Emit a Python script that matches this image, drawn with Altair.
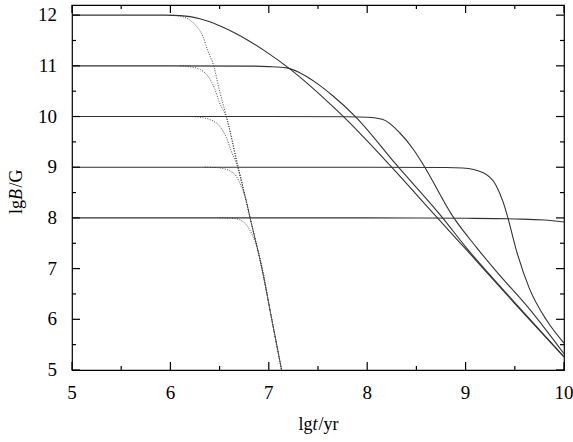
import altair as alt
import pandas as pd

# ---- solid curves ----
s12_x = [5.0, 5.6, 5.95, 6.1, 6.2, 6.3, 6.4, 6.5, 6.6, 6.8, 7.0, 7.2, 7.4, 7.6, 7.8, 8.0, 8.23, 8.70, 9.0, 9.5, 10.0]
s12_y = [12.0, 12.0, 12.0, 11.99, 11.97, 11.93, 11.87, 11.79, 11.70, 11.49, 11.24, 10.96, 10.64, 10.29, 9.92, 9.52, 9.04, 8.03, 7.39, 6.31, 5.26]

s11_x = [5.0, 6.0, 6.8, 7.0, 7.18, 7.31, 7.5, 7.65, 7.88, 8.30, 8.75, 9.0, 9.5, 10.0]
s11_y = [11.0, 11.0, 10.995, 10.985, 10.96, 10.87, 10.64, 10.41, 10.0, 9.04, 8.04, 7.43, 6.33, 5.26]

s10_x = [5.0, 7.0, 7.8, 8.0, 8.16, 8.33, 8.47, 8.57, 8.87, 9.11, 9.31, 9.65, 10.0]
s10_y = [10.0, 10.0, 9.995, 9.985, 9.94, 9.68, 9.35, 9.05, 8.03, 7.42, 6.95, 6.2, 5.32]

s9_x = [5.0, 8.0, 8.8, 8.97, 9.18, 9.31, 9.38, 9.43, 9.51, 9.65, 9.82, 10.0]
s9_y = [9.0, 9.0, 8.995, 8.985, 8.89, 8.64, 8.32, 8.0, 7.4, 6.6, 5.99, 5.53]

s8_x = [5.0, 8.0, 8.5, 9.0, 9.5, 9.8, 10.0]
s8_y = [8.0, 8.0, 7.998, 7.993, 7.98, 7.96, 7.92]

# ---- dotted curves ----
d12_x = [6.0, 6.1, 6.2, 6.27, 6.33, 6.38, 6.44, 6.50, 6.57, 6.69, 6.81, 6.93, 7.03, 7.13]
d12_y = [12.0, 11.98, 11.9, 11.77, 11.58, 11.3, 11.0, 10.5, 10.0, 9.0, 8.0, 7.0, 6.0, 5.0]

d11_x = [6.1, 6.2, 6.30, 6.38, 6.45, 6.50, 6.565, 6.685, 6.81, 6.93, 7.03, 7.13]
d11_y = [11.0, 10.98, 10.93, 10.8, 10.55, 10.27, 10.0, 9.0, 8.0, 7.0, 6.0, 5.0]

d10_x = [6.2, 6.32, 6.40, 6.50, 6.57, 6.62, 6.685, 6.81, 6.93, 7.03, 7.13]
d10_y = [10.0, 9.98, 9.94, 9.81, 9.58, 9.31, 9.0, 8.0, 7.0, 6.0, 5.0]

d9_x = [6.35, 6.45, 6.52, 6.59, 6.67, 6.72, 6.77, 6.81, 6.93, 7.03, 7.13]
d9_y = [9.0, 8.995, 8.98, 8.94, 8.82, 8.62, 8.35, 8.0, 7.0, 6.0, 5.0]

d8_x = [6.5, 6.6, 6.65, 6.71, 6.77, 6.84, 6.89, 6.935, 7.03, 7.13]
d8_y = [8.0, 7.997, 7.99, 7.96, 7.87, 7.63, 7.37, 7.0, 6.0, 5.0]

x_ticks = [5, 6, 7, 8, 9, 10]
x_minor = [5.5, 6.5, 7.5, 8.5, 9.5]
y_ticks = [5, 6, 7, 8, 9, 10, 11, 12]
y_minor = [5.5, 6.5, 7.5, 8.5, 9.5, 10.5, 11.5]


def frame(curves):
    rows = []
    for name, xs, ys in curves:
        for i, (a, b) in enumerate(zip(xs, ys)):
            rows.append({"x": a, "y": b, "series": name, "order": i})
    return pd.DataFrame(rows)


solid = frame([("12", s12_x, s12_y), ("11", s11_x, s11_y), ("10", s10_x, s10_y),
               ("9", s9_x, s9_y), ("8", s8_x, s8_y)])
dotted = frame([("12", d12_x, d12_y), ("11", d11_x, d11_y), ("10", d10_x, d10_y),
                ("9", d9_x, d9_y), ("8", d8_x, d8_y)])

W, H = 492, 365
FONT = "Liberation Serif"

xscale = alt.Scale(domain=[5, 10], nice=False, zero=False)
yscale = alt.Scale(domain=[5, 12.2], nice=False, zero=False)


def X(field):
    return alt.X(field, type="quantitative", scale=xscale, axis=None)


def Y(field):
    return alt.Y(field, type="quantitative", scale=yscale, axis=None)


dot_layer = alt.Chart(dotted).mark_line(
    color="#444444", strokeWidth=1, strokeDash=[1, 1.5], interpolate="monotone"
).encode(x=X("x"), y=Y("y"), detail="series:N", order="order:Q")

solid_layer = alt.Chart(solid).mark_line(
    color="#333333", strokeWidth=1.1, interpolate="monotone"
).encode(x=X("x"), y=Y("y"), detail="series:N", order="order:Q")


def xt(vals, length, top):
    df = pd.DataFrame({"v": vals})
    m = alt.Chart(df).mark_rule(color="black", strokeWidth=1.2)
    if top:
        return m.encode(x=X("v"), y=alt.value(0), y2=alt.value(length))
    return m.encode(x=X("v"), y=alt.value(H), y2=alt.value(H - length))


def yt(vals, length, right):
    df = pd.DataFrame({"v": vals})
    m = alt.Chart(df).mark_rule(color="black", strokeWidth=1.2)
    if right:
        return m.encode(y=Y("v"), x=alt.value(W), x2=alt.value(W - length))
    return m.encode(y=Y("v"), x=alt.value(0), x2=alt.value(length))


ticks = [xt(x_ticks, 8, False), xt(x_minor, 4, False), xt(x_ticks, 8, True), xt(x_minor, 4, True),
         yt(y_ticks, 8, False), yt(y_minor, 4, False), yt(y_ticks, 8, True), yt(y_minor, 4, True)]

# tick labels
xlab = alt.Chart(pd.DataFrame({"v": x_ticks})).mark_text(
    font=FONT, fontSize=19, color="black", align="center", baseline="alphabetic"
).encode(x=X("v"), y=alt.value(H + 29), text=alt.Text("v:Q", format="d"))

ylab = alt.Chart(pd.DataFrame({"v": y_ticks})).mark_text(
    font=FONT, fontSize=19, color="black", align="right", baseline="middle"
).encode(y=Y("v"), x=alt.value(-15), text=alt.Text("v:Q", format="d"))

one = pd.DataFrame({"k": [0]})


def txt(s, x, y, align, italic=False, angle=0):
    return alt.Chart(one).mark_text(
        text=s, font=FONT, fontSize=18, fontStyle="italic" if italic else "normal",
        align=align, baseline="alphabetic", angle=angle, color="black"
    ).encode(x=alt.value(x), y=alt.value(y))


titles = [
    txt("lg", 240.5, 425, "right"),
    txt("t", 240.5, 425, "left", italic=True),
    txt("/yr", 246.5, 425, "left"),
    txt("lg", -50, 195, "right", angle=270),
    txt("B", -50, 195, "left", italic=True, angle=270),
    txt("/G", -50, 182.5, "left", angle=270),
]

chart = alt.layer(dot_layer, solid_layer, *ticks, xlab, ylab, *titles).properties(
    width=W, height=H,
    autosize=alt.AutoSizeParams(type="none"),
    padding={"left": 72, "top": 5, "right": 9, "bottom": 72},
).configure(
    background="white",
    view=alt.ViewConfig(stroke="black", strokeWidth=1.2),
)

chart.save("out.html", embed_options={"renderer": "svg", "actions": False})
